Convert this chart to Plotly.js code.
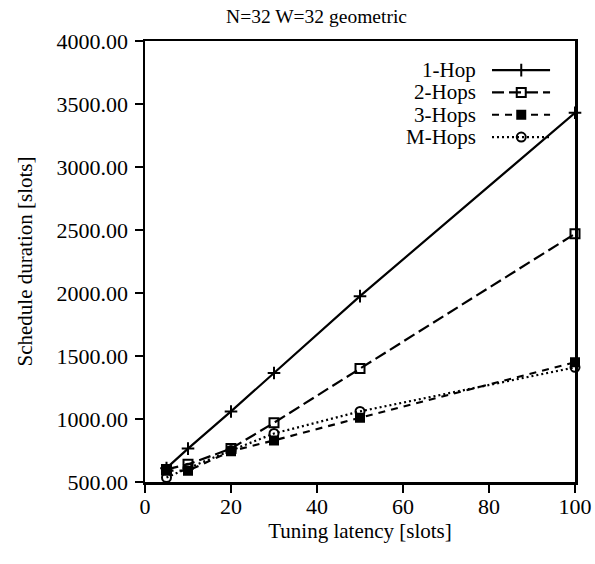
<!DOCTYPE html>
<html>
<head>
<meta charset="utf-8">
<script src="https://cdn.plot.ly/plotly-3.0.1.min.js"></script>
<style>html,body{margin:0;padding:0;background:#fff;}#chart{width:595px;height:564px;}</style>
</head>
<body>
<div id="chart"></div>
<script>
// ---- data ----
const latency = [5, 10, 20, 30, 50, 100];
const hop1  = [610, 765, 1060, 1365, 1975, 3430];
const hop2  = [600, 640, 765, 970, 1400, 2470];
const hop3  = [590, 590, 745, 830, 1010, 1450];
const hopM  = [535, 610, 750, 885, 1060, 1410];
const seriesNames = ["1-Hop", "2-Hops", "3-Hops", "M-Hops"];
const yTickVals = [500, 1000, 1500, 2000, 2500, 3000, 3500, 4000];
const xTickVals = [0, 20, 40, 60, 80, 100];

// ---- styles ----
const FONT = "Liberation Serif, Times New Roman, serif";
const styles = [
  {dash: "solid",        symbol: "cross-thin-open", size: 9},
  {dash: "12px,5px",     symbol: "square-open",     size: 9},
  {dash: "7px,6px",      symbol: "square",          size: 8},
  {dash: "2px,3px",      symbol: "circle-open",     size: 9}
];
const values = [hop1, hop2, hop3, hopM];

const traces = values.map((v, i) => ({
  x: latency, y: v, name: seriesNames[i], type: "scatter", mode: "lines+markers",
  line: {color: "black", width: 2.2, dash: styles[i].dash},
  marker: {symbol: styles[i].symbol, size: styles[i].size, color: "black",
           line: {color: "black", width: 2}},
  showlegend: false, cliponaxis: false
}));

// custom legend (sample on the right of the text, as in the reference)
// positions are fractions of the plot area (overlay axes x2/y2 spanning [0,1])
const legendRowY = i => 0.934 - 0.0506 * i;
const legendSampleX = [0.807, 0.875, 0.942];
const legendTextX = 0.774;
const legendTraces = values.map((v, i) => ({
  x: legendSampleX, y: legendSampleX.map(() => legendRowY(i)),
  xaxis: "x2", yaxis: "y2", type: "scatter", mode: "lines+markers",
  line: {color: "black", width: 2.2, dash: styles[i].dash},
  marker: {symbol: styles[i].symbol, size: styles[i].size, color: "black",
           line: {color: "black", width: 2}},
  selectedpoints: [1],
  selected: {marker: {opacity: 1}}, unselected: {marker: {opacity: 0}},
  showlegend: false, hoverinfo: "skip", cliponaxis: false
}));

const annotations = seriesNames.map((n, i) => ({
  text: n, xref: "x2", yref: "y2", x: legendTextX, y: legendRowY(i),
  xanchor: "right", yanchor: "middle", showarrow: false,
  font: {family: FONT, size: 21, color: "black"}
}));

const layout = {
  width: 595, height: 564,
  margin: {l: 145, r: 20, t: 41, b: 82},
  paper_bgcolor: "white", plot_bgcolor: "rgba(0,0,0,0)",
  font: {family: FONT, size: 21, color: "black"},
  title: {text: "N=32 W=32 geometric", x: 0.532, xanchor: "center",
          y: 0.972, yanchor: "middle", font: {family: FONT, size: 19.5, color: "black"}},
  xaxis: {
    range: [0, 100], tickvals: xTickVals, ticks: "outside", ticklen: 8, tickwidth: 2,
    tickcolor: "black", showline: true, linecolor: "black", linewidth: 2.5, mirror: true,
    showgrid: false, zeroline: false, tickfont: {family: FONT, size: 22},
    ticklabelstandoff: -5,
    title: {text: "Tuning latency [slots]", font: {family: FONT, size: 21}, standoff: 0}
  },
  yaxis: {
    range: [500, 4000], tickvals: yTickVals, tickformat: ".2f", ticks: "outside", ticklen: 8,
    tickwidth: 2, tickcolor: "black", showline: true, linecolor: "black", linewidth: 2.5,
    mirror: true, showgrid: false, zeroline: false, tickfont: {family: FONT, size: 22},
    ticklabelstandoff: 2,
    title: {text: "Schedule duration [slots]", font: {family: FONT, size: 21}, standoff: 18}
  },
  xaxis2: {range: [0, 1], visible: false, overlaying: "x", anchor: "y2", fixedrange: true},
  yaxis2: {range: [0, 1], visible: false, overlaying: "y", anchor: "x2", fixedrange: true},
  annotations: annotations,
  showlegend: false
};

Plotly.newPlot("chart", traces.concat(legendTraces), layout, {staticPlot: true});
</script>
</body>
</html>
